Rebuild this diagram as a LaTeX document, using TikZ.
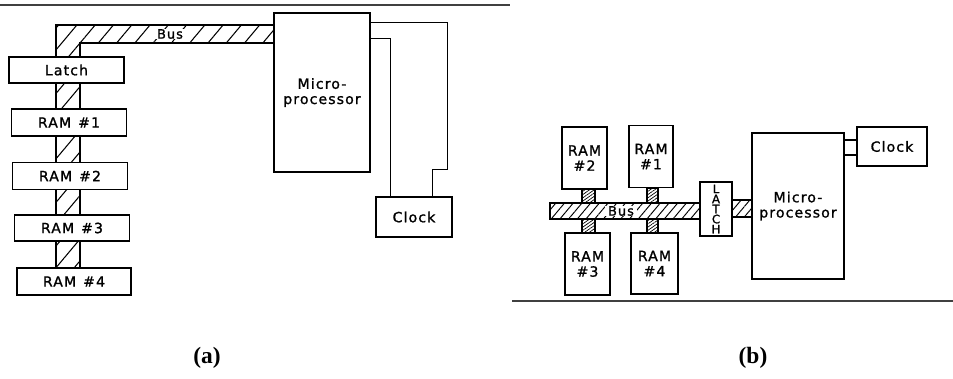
\documentclass[tikz,border=0pt]{standalone}
\usepackage{fontspec}
\setmainfont{Liberation Serif}
\newfontfamily\diagfont[LetterSpace=8, FakeBold=1.2]{DejaVu Sans}
\usepackage{tikz}
\usetikzlibrary{positioning, calc, backgrounds, patterns.meta}

\begin{document}
\begin{tikzpicture}[x=0.03cm, y=-0.03cm,
          box/.style={rectangle, draw, line width=1.2pt, fill=white, inner sep=1pt,
                      font=\diagfont\fontsize{12}{13}\selectfont, align=center},
          bus/.style={draw, line width=1.2pt,
                      pattern={Lines[angle=50, distance=0.42cm, line width=0.9pt]}},
          busfine/.style={draw, line width=1.2pt,
                      pattern={Lines[angle=50, distance=0.2cm, line width=0.8pt]}},
          stub/.style={draw, line width=1.1pt,
                      pattern={Lines[angle=35, distance=0.08cm, line width=0.6pt]}},
          buslabel/.style={fill=white, inner xsep=2.5pt, inner ysep=0.5pt,
                      font=\diagfont\fontsize{11}{12}\selectfont},
          wire/.style={line width=1.2pt},
          hrule/.style={line width=1.2pt, black!75},
          caption/.style={font=\bfseries\fontsize{20}{22}\selectfont}
        ]
        \useasboundingbox (0,0) rectangle (953,378);

        % (a): memory chain
        \draw[hrule] (0,5) -- (510,5);
        \node[box, minimum width=3.45cm, minimum height=0.78cm] (lata) at (66.5,70) {Latch};
        \node[box, minimum width=3.45cm, minimum height=0.8cm] (rama1) at (69,122.5) {RAM\enspace\#1};
        \node[box, minimum width=3.45cm, minimum height=0.8cm] (rama2) at (70,176) {RAM\enspace\#2};
        \node[box, minimum width=3.45cm, minimum height=0.78cm] (rama3) at (72,228) {RAM\enspace\#3};
        \node[box, minimum width=3.42cm, minimum height=0.8cm] (rama4) at (74,281.5) {RAM\enspace\#4};

        % (a): processor and clock
        \node[box, minimum width=2.88cm, minimum height=4.77cm] (mpa) at (322,92.5) {Micro-\\processor};
        \node[box, minimum width=2.28cm, minimum height=1.2cm] (clka) at (414,217) {Clock};

        \begin{scope}[on background layer]
          \draw[bus] (56,25) -- (mpa.west |- 0,25) -- (mpa.west |- 0,43) -- (80,43)
                -- (80,0 |- rama4.north) -- (56,0 |- rama4.north) -- cycle;
        \end{scope}
        \node[buslabel] (busa) at (170,34) {Bus};

        \draw[wire] ($(mpa.north east)+(0,10)$) -| ($(clka.north east)+(-5,-27)$)
              -| ($(clka.north west)+(57,0)$);
        \draw[wire] ($(mpa.north east)+(0,26)$) -| ($(clka.north west)+(15,0)$);

        % (b): memories on both sides of the bus
        \draw[hrule] (512,301) -- (953,301);
        \node[box, minimum width=1.35cm, minimum height=1.86cm] (ram2b) at (584.5,158) {RAM\\\#2};
        \node[box, minimum width=1.32cm, minimum height=1.86cm] (ram1b) at (651,156.5) {RAM\\\#1};
        \node[box, minimum width=1.35cm, minimum height=1.86cm] (ram3b) at (587.5,264) {RAM\\\#3};
        \node[box, minimum width=1.41cm, minimum height=1.83cm] (ram4b) at (654.5,263.5) {RAM\\\#4};

        \node[box, minimum width=0.96cm, minimum height=1.62cm,
              font=\diagfont\fontsize{10}{8.6}\selectfont] (latb) at (716,209) {L\\A\\T\\C\\H};
        \node[box, minimum width=2.76cm, minimum height=4.38cm] (mpb) at (798,206) {Micro-\\processor};
        \node[box, minimum width=2.1cm, minimum height=1.17cm] (clkb) at (892,146.5) {Clock};

        % (b): bus
        \node[busfine, minimum width=4.5cm, minimum height=0.48cm, inner sep=0pt] (busb) at (625,211) {};
        \node[buslabel] (buslb) at (621,211) {Bus};
        \draw[busfine] (latb.east |- 0,200) rectangle (mpb.west |- 0,217);

        \draw[stub] (582,0 |- ram2b.south) rectangle (595,0 |- busb.north);
        \draw[stub] (647,0 |- ram1b.south) rectangle (658,0 |- busb.north);
        \draw[stub] (582,0 |- ram3b.north) rectangle (595,0 |- busb.south);
        \draw[stub] (647,0 |- ram4b.north) rectangle (658,0 |- busb.south);

        \draw[wire] (mpb.east |- 0,140) -- (clkb.west |- 0,140);
        \draw[wire] (mpb.east |- 0,155) -- (clkb.west |- 0,155);

        % captions
        \node[caption] (capa) at (207,358) {(a)};
        \node[caption] (capb) at (753,358) {(b)};
      \end{tikzpicture}
\end{document}
